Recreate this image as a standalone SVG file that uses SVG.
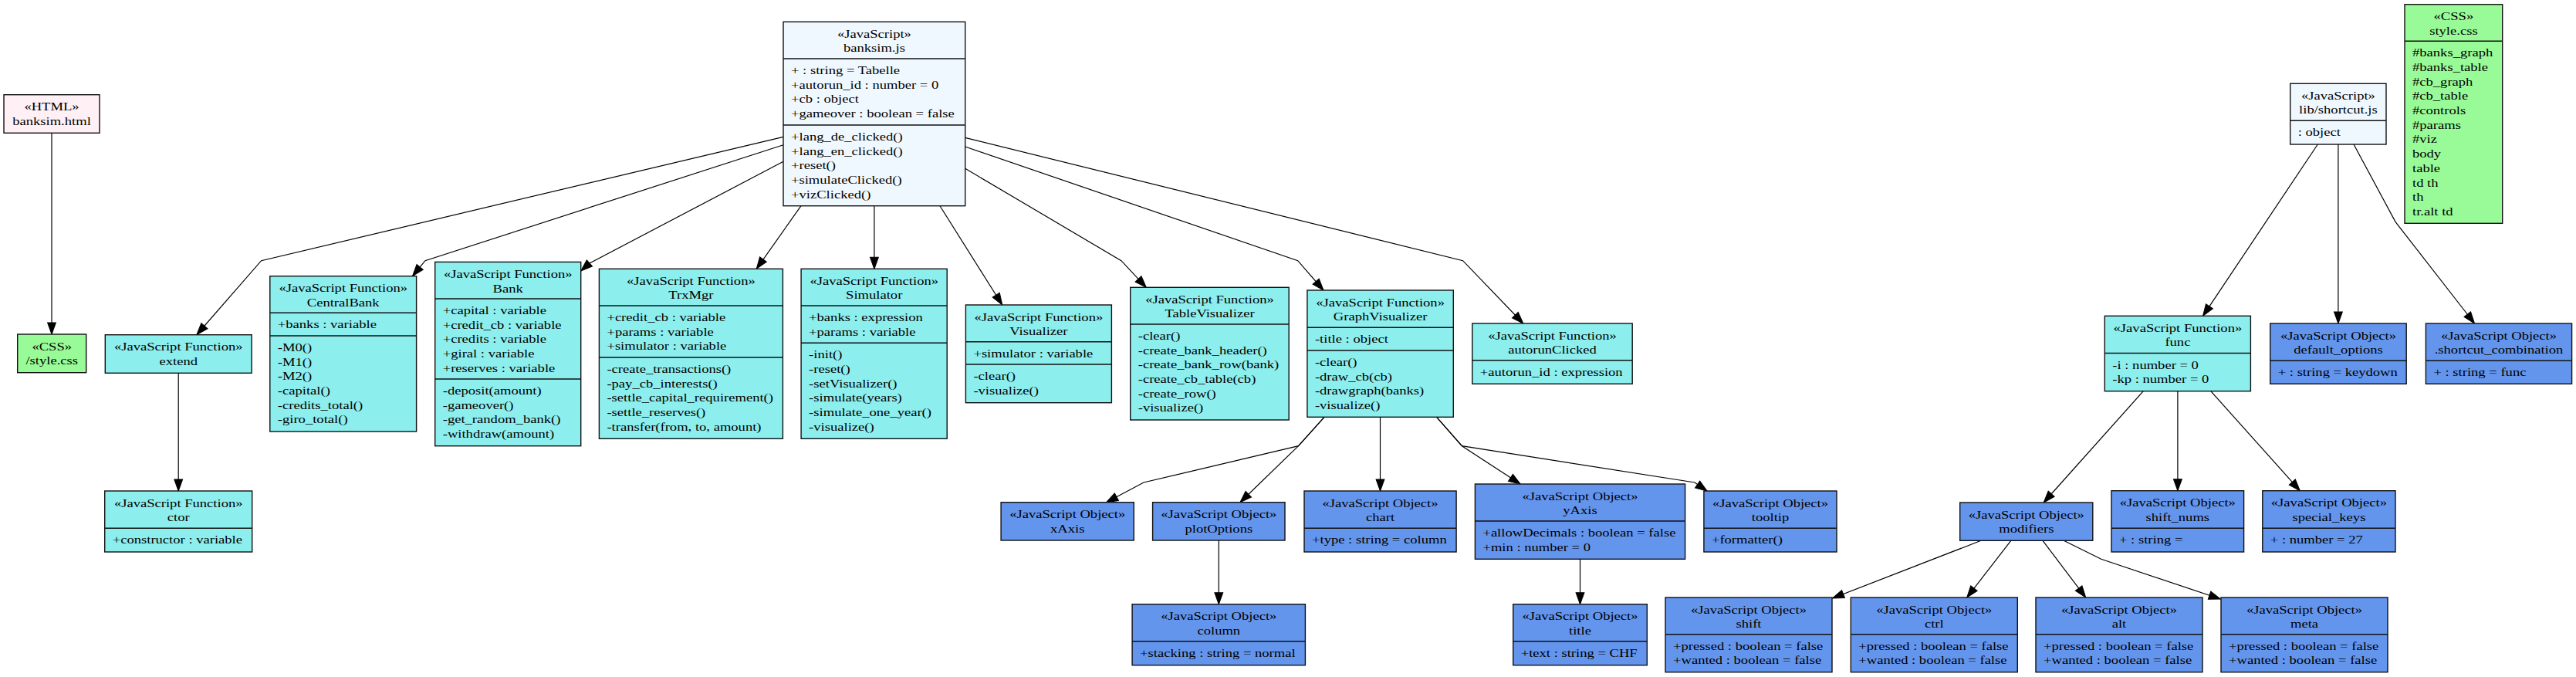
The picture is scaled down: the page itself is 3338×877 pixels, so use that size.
<svg xmlns="http://www.w3.org/2000/svg" width="3338" height="877" viewBox="0 0 3338 877">
<style>
.fn,.ob,.js,.ht,.cs{stroke:#111;stroke-width:1.4}
.fn{fill:#8deeee}.ob{fill:#6495ed}.js{fill:#f0f8ff}.ht{fill:#fff0f5}.cs{fill:#98fb98}
.dv{stroke:#111;stroke-width:1.4}
text{font-family:"Liberation Serif","Times New Roman",serif;font-size:15px;fill:#000}
.m{text-anchor:middle}
#edges polyline{fill:none;stroke:#000;stroke-width:1.2;marker-end:url(#arr)}
</style>
<defs>
<marker id="arr" markerUnits="userSpaceOnUse" markerWidth="15" markerHeight="11" refX="14" refY="5" orient="auto" viewBox="0 0 14 10" overflow="visible">
<path d="M0,0 L14,5 L0,10 z" fill="#000" stroke="#000" stroke-width="1"/>
</marker>
</defs>
<rect x="0" y="0" width="3338" height="877" fill="#fff"/>
<g id="edges">
<polyline points="67,172.3 67,433"/>
<polyline points="231.2,483.3 231.2,636"/>
<polyline points="1015,177.3 338.6,337.7 255,433.5"/>
<polyline points="1015,187.7 551,337.7 534.6,357.5"/>
<polyline points="1015,209.3 764,341 752.7,351"/>
<polyline points="1038,266.7 980.3,348.3"/>
<polyline points="1132.9,266.7 1132.9,348.3"/>
<polyline points="1218,266.7 1298.7,395"/>
<polyline points="1250.7,218.3 1452.9,337.7 1485.3,372.3"/>
<polyline points="1250.7,190 1681.7,337.7 1715,376"/>
<polyline points="1250.7,178.3 1895.6,337.7 1973.8,419"/>
<polyline points="1716,540.3 1682.5,577.7 1482,625 1433.6,650.7"/>
<polyline points="1716,540.3 1682.5,577.7 1607,650.7"/>
<polyline points="1788.5,540.3 1788.5,636"/>
<polyline points="1861.6,540.3 1894.4,577.7 1970,627"/>
<polyline points="1861.6,540.3 1894.4,577.7 2196,625 2212,636"/>
<polyline points="1579.3,700 1579.3,782.7"/>
<polyline points="2047.5,724.3 2047.5,782.7"/>
<polyline points="3003.3,187 2854.6,409.3"/>
<polyline points="3029.9,187 3029.9,419"/>
<polyline points="3050,187 3104,287.3 3206.5,419"/>
<polyline points="2777.3,506.7 2648.2,651"/>
<polyline points="2821.9,506.7 2821.9,635.7"/>
<polyline points="2864.8,506.7 2980.3,635.7"/>
<polyline points="2567,700.3 2374.5,775"/>
<polyline points="2605.8,700.3 2548.8,774"/>
<polyline points="2647,700.3 2702.7,774"/>
<polyline points="2674.2,700.3 2722.7,724.3 2877.3,776"/>
</g>

<g id="banksim_html">
<rect class="ht" x="5" y="122.7" width="124" height="49.6"/>
<text class="m" transform="translate(67 143.2) scale(1.24 1)">«HTML»<tspan x="0" dy="18.7">banksim.html</tspan></text>
</g>
<g id="style_css_local">
<rect class="cs" x="22.7" y="433" width="89" height="49.7"/>
<text class="m" transform="translate(67.2 453.5) scale(1.24 1)">«CSS»<tspan x="0" dy="18.7">/style.css</tspan></text>
</g>
<g id="banksim_js">
<rect class="js" x="1015" y="28.3" width="235.7" height="238.4"/>
<line class="dv" x1="1015" y1="76" x2="1250.7" y2="76"/>
<line class="dv" x1="1015" y1="162" x2="1250.7" y2="162"/>
<text class="m" transform="translate(1132.9 48.8) scale(1.24 1)">«JavaScript»<tspan x="0" dy="18.7">banksim.js</tspan></text>
<text transform="translate(1025 96) scale(1.24 1)">+ : string = Tabelle<tspan x="0" dy="18.7">+autorun_id : number = 0</tspan><tspan x="0" dy="18.7">+cb : object</tspan><tspan x="0" dy="18.7">+gameover : boolean = false</tspan></text>
<text transform="translate(1025 182) scale(1.24 1)">+lang_de_clicked()<tspan x="0" dy="18.7">+lang_en_clicked()</tspan><tspan x="0" dy="18.7">+reset()</tspan><tspan x="0" dy="18.7">+simulateClicked()</tspan><tspan x="0" dy="18.7">+vizClicked()</tspan></text>
</g>
<g id="extend">
<rect class="fn" x="136.3" y="433.7" width="189.8" height="49.6"/>
<text class="m" transform="translate(231.2 454.2) scale(1.24 1)">«JavaScript Function»<tspan x="0" dy="18.7">extend</tspan></text>
</g>
<g id="ctor">
<rect class="fn" x="135.7" y="636" width="191" height="79"/>
<line class="dv" x1="135.7" y1="684.3" x2="326.7" y2="684.3"/>
<text class="m" transform="translate(231.2 656.5) scale(1.24 1)">«JavaScript Function»<tspan x="0" dy="18.7">ctor</tspan></text>
<text transform="translate(145.7 704.3) scale(1.24 1)">+constructor : variable</text>
</g>
<g id="CentralBank">
<rect class="fn" x="349.8" y="357.7" width="189.8" height="201.3"/>
<line class="dv" x1="349.8" y1="405.3" x2="539.6" y2="405.3"/>
<line class="dv" x1="349.8" y1="435" x2="539.6" y2="435"/>
<text class="m" transform="translate(444.7 378.2) scale(1.24 1)">«JavaScript Function»<tspan x="0" dy="18.7">CentralBank</tspan></text>
<text transform="translate(359.8 425.3) scale(1.24 1)">+banks : variable</text>
<text transform="translate(359.8 455) scale(1.24 1)">-M0()<tspan x="0" dy="18.7">-M1()</tspan><tspan x="0" dy="18.7">-M2()</tspan><tspan x="0" dy="18.7">-capital()</tspan><tspan x="0" dy="18.7">-credits_total()</tspan><tspan x="0" dy="18.7">-giro_total()</tspan></text>
</g>
<g id="Bank">
<rect class="fn" x="563.7" y="339.4" width="189" height="238.3"/>
<line class="dv" x1="563.7" y1="387" x2="752.7" y2="387"/>
<line class="dv" x1="563.7" y1="491" x2="752.7" y2="491"/>
<text class="m" transform="translate(658.2 359.9) scale(1.24 1)">«JavaScript Function»<tspan x="0" dy="18.7">Bank</tspan></text>
<text transform="translate(573.7 407) scale(1.24 1)">+capital : variable<tspan x="0" dy="18.7">+credit_cb : variable</tspan><tspan x="0" dy="18.7">+credits : variable</tspan><tspan x="0" dy="18.7">+giral : variable</tspan><tspan x="0" dy="18.7">+reserves : variable</tspan></text>
<text transform="translate(573.7 511) scale(1.24 1)">-deposit(amount)<tspan x="0" dy="18.7">-gameover()</tspan><tspan x="0" dy="18.7">-get_random_bank()</tspan><tspan x="0" dy="18.7">-withdraw(amount)</tspan></text>
</g>
<g id="TrxMgr">
<rect class="fn" x="776.4" y="348.3" width="238" height="220"/>
<line class="dv" x1="776.4" y1="396" x2="1014.4" y2="396"/>
<line class="dv" x1="776.4" y1="463" x2="1014.4" y2="463"/>
<text class="m" transform="translate(895.4 368.8) scale(1.24 1)">«JavaScript Function»<tspan x="0" dy="18.7">TrxMgr</tspan></text>
<text transform="translate(786.4 416) scale(1.24 1)">+credit_cb : variable<tspan x="0" dy="18.7">+params : variable</tspan><tspan x="0" dy="18.7">+simulator : variable</tspan></text>
<text transform="translate(786.4 483) scale(1.24 1)">-create_transactions()<tspan x="0" dy="18.7">-pay_cb_interests()</tspan><tspan x="0" dy="18.7">-settle_capital_requirement()</tspan><tspan x="0" dy="18.7">-settle_reserves()</tspan><tspan x="0" dy="18.7">-transfer(from, to, amount)</tspan></text>
</g>
<g id="Simulator">
<rect class="fn" x="1038.1" y="348.3" width="189.1" height="220"/>
<line class="dv" x1="1038.1" y1="396" x2="1227.2" y2="396"/>
<line class="dv" x1="1038.1" y1="444.3" x2="1227.2" y2="444.3"/>
<text class="m" transform="translate(1132.7 368.8) scale(1.24 1)">«JavaScript Function»<tspan x="0" dy="18.7">Simulator</tspan></text>
<text transform="translate(1048.1 416) scale(1.24 1)">+banks : expression<tspan x="0" dy="18.7">+params : variable</tspan></text>
<text transform="translate(1048.1 464.3) scale(1.24 1)">-init()<tspan x="0" dy="18.7">-reset()</tspan><tspan x="0" dy="18.7">-setVisualizer()</tspan><tspan x="0" dy="18.7">-simulate(years)</tspan><tspan x="0" dy="18.7">-simulate_one_year()</tspan><tspan x="0" dy="18.7">-visualize()</tspan></text>
</g>
<g id="Visualizer">
<rect class="fn" x="1251.4" y="395" width="189" height="126.7"/>
<line class="dv" x1="1251.4" y1="442.7" x2="1440.4" y2="442.7"/>
<line class="dv" x1="1251.4" y1="472" x2="1440.4" y2="472"/>
<text class="m" transform="translate(1345.9 415.5) scale(1.24 1)">«JavaScript Function»<tspan x="0" dy="18.7">Visualizer</tspan></text>
<text transform="translate(1261.4 462.7) scale(1.24 1)">+simulator : variable</text>
<text transform="translate(1261.4 492) scale(1.24 1)">-clear()<tspan x="0" dy="18.7">-visualize()</tspan></text>
</g>
<g id="TableVisualizer">
<rect class="fn" x="1464.7" y="372.3" width="205.5" height="171.7"/>
<line class="dv" x1="1464.7" y1="420" x2="1670.2" y2="420"/>
<text class="m" transform="translate(1567.5 392.8) scale(1.24 1)">«JavaScript Function»<tspan x="0" dy="18.7">TableVisualizer</tspan></text>
<text transform="translate(1474.7 440) scale(1.24 1)">-clear()<tspan x="0" dy="18.7">-create_bank_header()</tspan><tspan x="0" dy="18.7">-create_bank_row(bank)</tspan><tspan x="0" dy="18.7">-create_cb_table(cb)</tspan><tspan x="0" dy="18.7">-create_row()</tspan><tspan x="0" dy="18.7">-visualize()</tspan></text>
</g>
<g id="GraphVisualizer">
<rect class="fn" x="1693.9" y="376" width="189.4" height="164.3"/>
<line class="dv" x1="1693.9" y1="424.3" x2="1883.3" y2="424.3"/>
<line class="dv" x1="1693.9" y1="454" x2="1883.3" y2="454"/>
<text class="m" transform="translate(1788.6 396.5) scale(1.24 1)">«JavaScript Function»<tspan x="0" dy="18.7">GraphVisualizer</tspan></text>
<text transform="translate(1703.9 444.3) scale(1.24 1)">-title : object</text>
<text transform="translate(1703.9 474) scale(1.24 1)">-clear()<tspan x="0" dy="18.7">-draw_cb(cb)</tspan><tspan x="0" dy="18.7">-drawgraph(banks)</tspan><tspan x="0" dy="18.7">-visualize()</tspan></text>
</g>
<g id="autorunClicked">
<rect class="fn" x="1907.8" y="419" width="207.4" height="78.3"/>
<line class="dv" x1="1907.8" y1="466.7" x2="2115.2" y2="466.7"/>
<text class="m" transform="translate(2011.5 439.5) scale(1.24 1)">«JavaScript Function»<tspan x="0" dy="18.7">autorunClicked</tspan></text>
<text transform="translate(1917.8 486.7) scale(1.24 1)">+autorun_id : expression</text>
</g>
<g id="xAxis">
<rect class="ob" x="1297.1" y="650.7" width="172.2" height="49.3"/>
<text class="m" transform="translate(1383.2 671.2) scale(1.24 1)">«JavaScript Object»<tspan x="0" dy="18.7">xAxis</tspan></text>
</g>
<g id="plotOptions">
<rect class="ob" x="1493.6" y="650.7" width="171.4" height="49.3"/>
<text class="m" transform="translate(1579.3 671.2) scale(1.24 1)">«JavaScript Object»<tspan x="0" dy="18.7">plotOptions</tspan></text>
</g>
<g id="chart">
<rect class="ob" x="1690" y="636" width="197.1" height="79"/>
<line class="dv" x1="1690" y1="684.3" x2="1887.1" y2="684.3"/>
<text class="m" transform="translate(1788.5 656.5) scale(1.24 1)">«JavaScript Object»<tspan x="0" dy="18.7">chart</tspan></text>
<text transform="translate(1700 704.3) scale(1.24 1)">+type : string = column</text>
</g>
<g id="yAxis">
<rect class="ob" x="1911.4" y="627" width="272.2" height="97.3"/>
<line class="dv" x1="1911.4" y1="675" x2="2183.6" y2="675"/>
<text class="m" transform="translate(2047.5 647.5) scale(1.24 1)">«JavaScript Object»<tspan x="0" dy="18.7">yAxis</tspan></text>
<text transform="translate(1921.4 695) scale(1.24 1)">+allowDecimals : boolean = false<tspan x="0" dy="18.7">+min : number = 0</tspan></text>
</g>
<g id="tooltip">
<rect class="ob" x="2207.9" y="636" width="172.1" height="79"/>
<line class="dv" x1="2207.9" y1="684.3" x2="2380" y2="684.3"/>
<text class="m" transform="translate(2294 656.5) scale(1.24 1)">«JavaScript Object»<tspan x="0" dy="18.7">tooltip</tspan></text>
<text transform="translate(2217.9 704.3) scale(1.24 1)">+formatter()</text>
</g>
<g id="column">
<rect class="ob" x="1467.1" y="782.7" width="224.3" height="79"/>
<line class="dv" x1="1467.1" y1="830.7" x2="1691.4" y2="830.7"/>
<text class="m" transform="translate(1579.3 803.2) scale(1.24 1)">«JavaScript Object»<tspan x="0" dy="18.7">column</tspan></text>
<text transform="translate(1477.1 850.7) scale(1.24 1)">+stacking : string = normal</text>
</g>
<g id="title">
<rect class="ob" x="1960.7" y="782.7" width="173.6" height="79"/>
<line class="dv" x1="1960.7" y1="830.7" x2="2134.3" y2="830.7"/>
<text class="m" transform="translate(2047.5 803.2) scale(1.24 1)">«JavaScript Object»<tspan x="0" dy="18.7">title</tspan></text>
<text transform="translate(1970.7 850.7) scale(1.24 1)">+text : string = CHF</text>
</g>
<g id="shortcut_js">
<rect class="js" x="2967.7" y="108.3" width="124.3" height="78.7"/>
<line class="dv" x1="2967.7" y1="156.3" x2="3092" y2="156.3"/>
<text class="m" transform="translate(3029.9 128.8) scale(1.24 1)">«JavaScript»<tspan x="0" dy="18.7">lib/shortcut.js</tspan></text>
<text transform="translate(2977.7 176.3) scale(1.24 1)">: object</text>
</g>
<g id="style_css">
<rect class="cs" x="3116" y="5.7" width="126.7" height="283.6"/>
<line class="dv" x1="3116" y1="53.3" x2="3242.7" y2="53.3"/>
<text class="m" transform="translate(3179.4 26.2) scale(1.24 1)">«CSS»<tspan x="0" dy="18.7">style.css</tspan></text>
<text transform="translate(3126 73.3) scale(1.24 1)">#banks_graph<tspan x="0" dy="18.7">#banks_table</tspan><tspan x="0" dy="18.7">#cb_graph</tspan><tspan x="0" dy="18.7">#cb_table</tspan><tspan x="0" dy="18.7">#controls</tspan><tspan x="0" dy="18.7">#params</tspan><tspan x="0" dy="18.7">#viz</tspan><tspan x="0" dy="18.7">body</tspan><tspan x="0" dy="18.7">table</tspan><tspan x="0" dy="18.7">td th</tspan><tspan x="0" dy="18.7">th</tspan><tspan x="0" dy="18.7">tr.alt td</tspan></text>
</g>
<g id="func">
<rect class="fn" x="2727.3" y="409.3" width="189.1" height="97.4"/>
<line class="dv" x1="2727.3" y1="457.5" x2="2916.4" y2="457.5"/>
<text class="m" transform="translate(2821.9 429.8) scale(1.24 1)">«JavaScript Function»<tspan x="0" dy="18.7">func</tspan></text>
<text transform="translate(2737.3 477.5) scale(1.24 1)">-i : number = 0<tspan x="0" dy="18.7">-kp : number = 0</tspan></text>
</g>
<g id="default_options">
<rect class="ob" x="2941.7" y="419" width="176.5" height="78.3"/>
<line class="dv" x1="2941.7" y1="467.3" x2="3118.2" y2="467.3"/>
<text class="m" transform="translate(3030 439.5) scale(1.24 1)">«JavaScript Object»<tspan x="0" dy="18.7">default_options</tspan></text>
<text transform="translate(2951.7 487.3) scale(1.24 1)">+ : string = keydown</text>
</g>
<g id="shortcut_combination">
<rect class="ob" x="3143.4" y="419" width="189.2" height="78.3"/>
<line class="dv" x1="3143.4" y1="467.3" x2="3332.6" y2="467.3"/>
<text class="m" transform="translate(3238 439.5) scale(1.24 1)">«JavaScript Object»<tspan x="0" dy="18.7">.shortcut_combination</tspan></text>
<text transform="translate(3153.4 487.3) scale(1.24 1)">+ : string = func</text>
</g>
<g id="modifiers">
<rect class="ob" x="2539.7" y="651" width="172.1" height="49.3"/>
<text class="m" transform="translate(2625.8 671.5) scale(1.24 1)">«JavaScript Object»<tspan x="0" dy="18.7">modifiers</tspan></text>
</g>
<g id="shift_nums">
<rect class="ob" x="2736" y="635.7" width="171.6" height="79.3"/>
<line class="dv" x1="2736" y1="684.3" x2="2907.6" y2="684.3"/>
<text class="m" transform="translate(2821.8 656.2) scale(1.24 1)">«JavaScript Object»<tspan x="0" dy="18.7">shift_nums</tspan></text>
<text transform="translate(2746 704.3) scale(1.24 1)">+ : string =</text>
</g>
<g id="special_keys">
<rect class="ob" x="2931.8" y="635.7" width="172.2" height="79.3"/>
<line class="dv" x1="2931.8" y1="684.3" x2="3104" y2="684.3"/>
<text class="m" transform="translate(3017.9 656.2) scale(1.24 1)">«JavaScript Object»<tspan x="0" dy="18.7">special_keys</tspan></text>
<text transform="translate(2941.8 704.3) scale(1.24 1)">+ : number = 27</text>
</g>
<g id="shift">
<rect class="ob" x="2158" y="774" width="216" height="96.7"/>
<line class="dv" x1="2158" y1="821.7" x2="2374" y2="821.7"/>
<text class="m" transform="translate(2266 794.5) scale(1.24 1)">«JavaScript Object»<tspan x="0" dy="18.7">shift</tspan></text>
<text transform="translate(2168 841.7) scale(1.24 1)">+pressed : boolean = false<tspan x="0" dy="18.7">+wanted : boolean = false</tspan></text>
</g>
<g id="ctrl">
<rect class="ob" x="2398.3" y="774" width="216" height="96.7"/>
<line class="dv" x1="2398.3" y1="821.7" x2="2614.3" y2="821.7"/>
<text class="m" transform="translate(2506.3 794.5) scale(1.24 1)">«JavaScript Object»<tspan x="0" dy="18.7">ctrl</tspan></text>
<text transform="translate(2408.3 841.7) scale(1.24 1)">+pressed : boolean = false<tspan x="0" dy="18.7">+wanted : boolean = false</tspan></text>
</g>
<g id="alt">
<rect class="ob" x="2638" y="774" width="216" height="96.7"/>
<line class="dv" x1="2638" y1="821.7" x2="2854" y2="821.7"/>
<text class="m" transform="translate(2746 794.5) scale(1.24 1)">«JavaScript Object»<tspan x="0" dy="18.7">alt</tspan></text>
<text transform="translate(2648 841.7) scale(1.24 1)">+pressed : boolean = false<tspan x="0" dy="18.7">+wanted : boolean = false</tspan></text>
</g>
<g id="meta">
<rect class="ob" x="2878" y="774" width="216" height="96.7"/>
<line class="dv" x1="2878" y1="821.7" x2="3094" y2="821.7"/>
<text class="m" transform="translate(2986 794.5) scale(1.24 1)">«JavaScript Object»<tspan x="0" dy="18.7">meta</tspan></text>
<text transform="translate(2888 841.7) scale(1.24 1)">+pressed : boolean = false<tspan x="0" dy="18.7">+wanted : boolean = false</tspan></text>
</g>
</svg>
